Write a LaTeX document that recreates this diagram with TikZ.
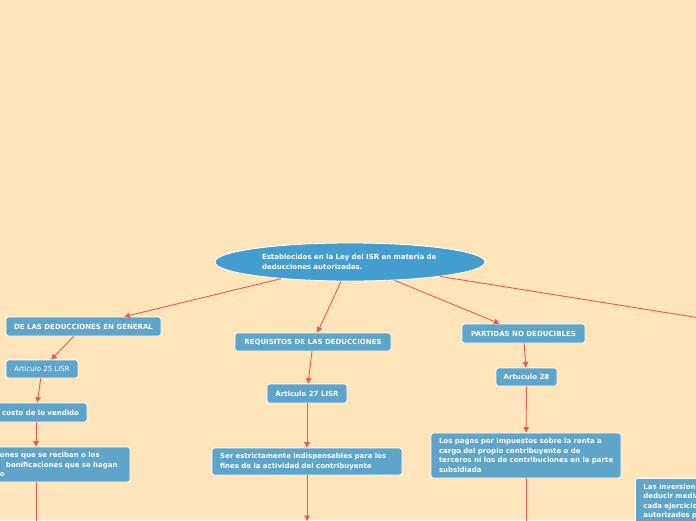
\documentclass[tikz,border=0pt]{standalone}
\usepackage{fontspec}
\setmainfont{DejaVu Sans}
\usetikzlibrary{shapes.geometric,arrows.meta}
\definecolor{bgc}{RGB}{255,229,185}
\definecolor{boxc}{RGB}{94,165,201}
\definecolor{ellc}{RGB}{67,157,206}
\definecolor{linec}{RGB}{236,88,88}
\tikzset{
  every node/.style={font=\fontsize{7}{9.5}\selectfont\bfseries, text=white},
  mbox/.style={draw=white, line width=0.8pt, fill=boxc, rounded corners=2.5pt, inner sep=0pt, align=center},
  tbox/.style={draw=white, line width=0.8pt, fill=boxc, rounded corners=2.5pt, inner xsep=8pt, inner ysep=0pt, align=left},
  conn/.style={draw=linec, line width=0.9pt, -{Triangle[length=5.5pt,width=5.5pt]}},
}
\begin{document}
\begin{tikzpicture}[x=1pt,y=-1pt]
\useasboundingbox[fill=bgc] (0,0) rectangle (696,520);
% root
\node[ellipse, fill=ellc, draw=white, line width=0.8pt, minimum width=270, minimum height=38, inner sep=0pt, text width=176, align=left] (root) at (350,262) {Establecidos en la Ley del ISR en materia de\\deducciones autorizadas.};
% left branch
\node[mbox, minimum width=155, minimum height=19] (gen) at (83.5,326.5) {DE LAS DEDUCCIONES EN GENERAL};
\node[mbox, minimum width=72, minimum height=18, font=\fontsize{7}{9.5}\selectfont\mdseries] (a25) at (42,369) {Articulo 25 LISR};
\node[tbox, text width=86, minimum height=19, align=right] (costo) at (36,412.5) {l costo de lo vendido};
\node[tbox, text width=172, minimum height=35] (ones) at (36,464.5) {\hspace*{50pt}ones que se reciban o los\\\hspace*{56pt}bonificaciones que se hagan\\\hspace*{50pt}o};
\coordinate (ld) at (36,540);
% middle branch
\node[mbox, minimum width=156, minimum height=18] (req) at (313,342) {REQUISITOS DE LAS DEDUCCIONES};
\node[mbox, minimum width=80, minimum height=19] (a27) at (307,393.5) {Articulo 27 LISR};
\node[tbox, text width=174, minimum height=27] (ser) at (307,461.5) {Ser estrictamente indispensables para los\\fines de la actividad del contribuyente};
\coordinate (md) at (307,521);
% right branch
\node[mbox, minimum width=123, minimum height=19] (part) at (523.5,333.5) {PARTIDAS NO DEDUCIBLES};
\node[mbox, minimum width=61, minimum height=18] (a28) at (526.5,377) {Artuculo 28};
\node[tbox, text width=174, minimum height=45] (pagos) at (526,455.5) {\mbox{Los pagos por impuestos sobre la renta a}\\\mbox{cargo del propio contribuyente o de}\\\mbox{terceros ni los de contribuciones en la parte}\\\mbox{subsidiada}};
\coordinate (rd) at (526,540);
% far right
\coordinate (far) at (900,350);
\node[tbox, text width=174, inner ysep=5.5pt, anchor=north west] (inv) at (635,478) {Las inversiones\\deducir mediante\\cada ejercicio\\autorizados por\\};
% connectors
\draw[conn] (root) -- (gen);
\draw[conn] (gen) -- (a25);
\draw[conn] (a25) -- (costo);
\draw[conn] (costo.south -| ld) -- (ones.north -| ld);
\draw[conn] (ones.south -| ld) -- (ld);
\draw[conn] (root) -- (req);
\draw[conn] (req) -- (a27);
\draw[conn] (a27) -- (ser);
\draw[conn] (ser) -- (md);
\draw[conn] (root) -- (part);
\draw[conn] (part) -- (a28);
\draw[conn] (a28) -- (pagos);
\draw[conn] (pagos) -- (rd);
\draw[draw=linec, line width=0.9pt] (root) -- (far);
\end{tikzpicture}
\end{document}
